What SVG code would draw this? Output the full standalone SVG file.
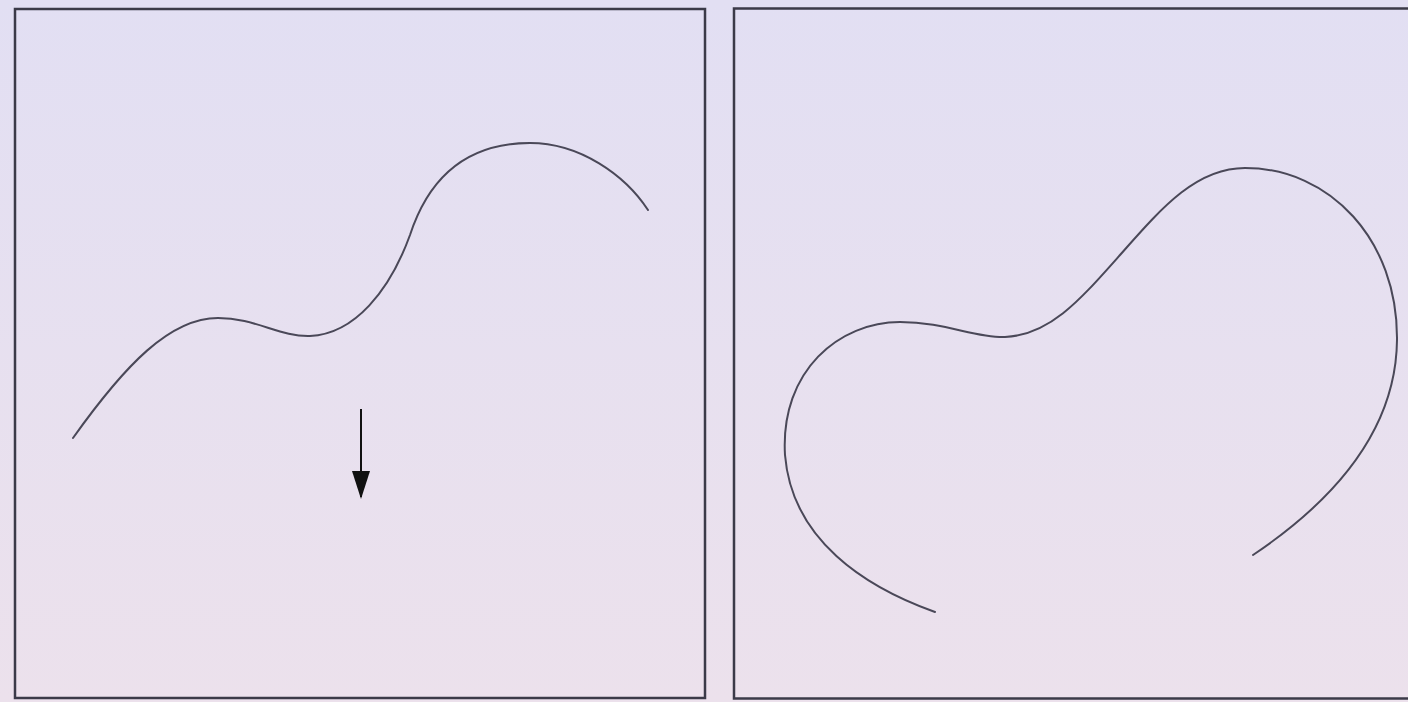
<svg xmlns="http://www.w3.org/2000/svg" width="1408" height="702" viewBox="0 0 1408 702">
  <defs>
    <linearGradient id="bg" x1="0" y1="0" x2="0" y2="1">
      <stop offset="0" stop-color="#e2dff3"/>
      <stop offset="1" stop-color="#ece1ec"/>
    </linearGradient>
    <marker id="arrow" viewBox="0 0 28 18" refX="26" refY="9" markerWidth="28" markerHeight="18" markerUnits="userSpaceOnUse" orient="auto">
      <path d="M0,0 L28,9 L0,18 Z" fill="#111"/>
    </marker>
    <style>
      .panel { fill: none; stroke: #3b3a48; stroke-width: 2.5; }
      .curve { fill: none; stroke: #4a4858; stroke-width: 2; stroke-linecap: round; }
      .arrow { fill: none; stroke: #111; stroke-width: 2; }
    </style>
  </defs>
  <rect x="0" y="0" width="1408" height="702" fill="url(#bg)"/>
  <g id="panel-left">
    <rect class="panel" x="15" y="9" width="690" height="689"/>
    <path class="curve" d="M73,438 C125,365 170,318 218,318 C255,318 280,337 310,336 C355,334 390,290 410,235 C428,180 465,143 530,143 C580,143 625,175 648,210"/>
  </g>
  <g id="panel-right">
    <rect class="panel" x="734" y="8.5" width="700" height="690"/>
    <path class="curve" d="M935,612 C865,587 792,540 785,455 C780,370 840,322 900,322 C945,322 975,338 1005,337 C1050,335 1080,300 1120,255 C1160,210 1195,168 1245,168 C1330,168 1398,240 1397,340 C1396,440 1320,510 1253,555"/>
  </g>
  <g id="connectors">
    <line class="arrow" x1="361" y1="409" x2="361" y2="497" marker-end="url(#arrow)"/>
  </g>
</svg>
